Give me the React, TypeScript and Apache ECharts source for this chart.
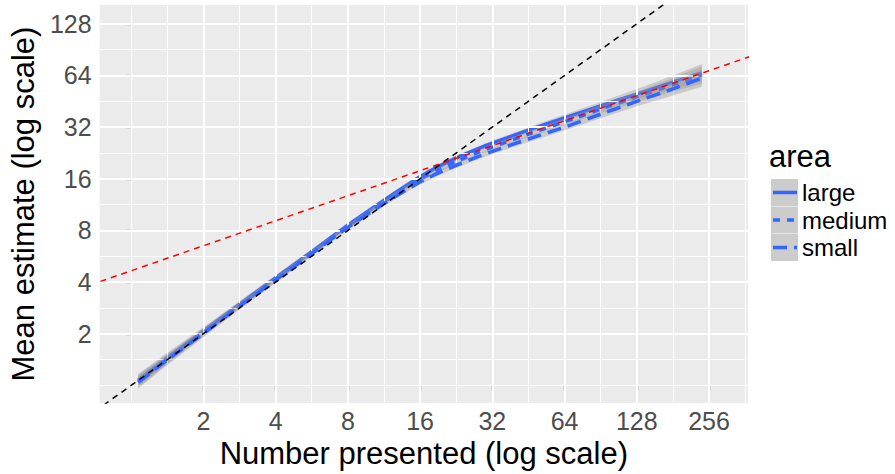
import React, { useEffect, useRef } from "react";
import * as echarts from "echarts";

// ---- data ----
const numberPresented = [1.07, 1.41, 2, 2.83, 4, 5.66, 8, 11.3, 13.5, 16, 19.0, 22.6, 26.9, 32, 45.3, 64, 90.5, 128, 181, 239];
const meanLarge = [1.072, 1.444, 2.07, 2.97, 4.23, 6.02, 8.58, 11.96, 14.12, 16.45, 18.77, 21.11, 23.42, 25.81, 30.7, 36.25, 42.52, 49.87, 58.49, 66.27];
const meanMedium = [1.057, 1.424, 2.04, 2.93, 4.17, 5.94, 8.46, 11.71, 13.74, 15.89, 18.0, 20.11, 22.31, 24.51, 29.14, 34.41, 40.64, 48.0, 56.49, 64.45];
const meanSmall = [1.043, 1.404, 2.01, 2.89, 4.11, 5.86, 8.34, 11.47, 13.36, 15.35, 17.27, 19.16, 21.11, 23.1, 27.28, 32.0, 38.05, 45.25, 53.45, 61.82];
// multiplicative half-width of the confidence band around each mean
const ciFactor = [1.087, 1.07, 1.055, 1.045, 1.04, 1.037, 1.035, 1.035, 1.035, 1.035, 1.035, 1.035, 1.035, 1.037, 1.04, 1.046, 1.055, 1.07, 1.094, 1.125];
const areaLevels = ["large", "medium", "small"];
const xTickValues = [2, 4, 8, 16, 32, 64, 128, 256];
const yTickValues = [2, 4, 8, 16, 32, 64, 128];
const xLimits = [0.739, 372];
const yLimits = [0.789, 164.7];
const identityX = [0.5, 512];
const referenceX = [0.5, 512];
const referenceY = [3.33, 95.4];

const FONT = "'Liberation Sans', Arial, Helvetica, sans-serif";
const BLUE = "#3366FF";
const L = Math.log2;

function minorFrom(ticks: number[]) {
  const ext = [ticks[0] / 2, ...ticks, ticks[ticks.length - 1] * 2];
  const out: number[] = [];
  for (let i = 0; i < ext.length - 1; i++) {
    out.push(ext[i]);
    out.push(Math.sqrt(ext[i] * ext[i + 1]));
  }
  out.push(ext[ext.length - 1]);
  return out;
}

export default function App() {
  const ref = useRef<HTMLDivElement>(null);
  useEffect(() => {
    if (!ref.current) return;
    const chart = echarts.init(ref.current, undefined, { renderer: "svg" });
    const xMin = L(xLimits[0]), xMax = L(xLimits[1]);
    const yMin = L(yLimits[0]), yMax = L(yLimits[1]);
    const inX = (v: number) => L(v) > xMin && L(v) < xMax;
    const inY = (v: number) => L(v) > yMin && L(v) < yMax;

    const gridLines: any[] = [];
    minorFrom(xTickValues).filter(inX).forEach((v) =>
      gridLines.push({ xAxis: L(v), lineStyle: { color: "#ffffff", width: 1, type: "solid" } })
    );
    minorFrom(yTickValues).filter(inY).forEach((v) =>
      gridLines.push({ yAxis: L(v), lineStyle: { color: "#ffffff", width: 1, type: "solid" } })
    );
    xTickValues.filter(inX).forEach((v) =>
      gridLines.push({ xAxis: L(v), lineStyle: { color: "#ffffff", width: 2, type: "solid" } })
    );
    yTickValues.filter(inY).forEach((v) =>
      gridLines.push({ yAxis: L(v), lineStyle: { color: "#ffffff", width: 2, type: "solid" } })
    );

    const means = [meanLarge, meanMedium, meanSmall];
    const dashes: any[] = ["solid", [7, 7], [14, 7]];
    const series: any[] = [
      {
        type: "line",
        z: 1,
        silent: true,
        data: [[xMin, yMin]],
        showSymbol: false,
        symbol: "none",
        lineStyle: { opacity: 0 },
        markLine: {
          silent: true,
          symbol: ["none", "none"],
          label: { show: false },
          emphasis: { disabled: true },
          animation: false,
          data: gridLines,
        },
      },
    ];
    means.forEach((m, k) => {
      const upper = numberPresented.map((x, i) => [L(x), L(m[i] * ciFactor[i])]);
      const lower = numberPresented.map((x, i) => [L(x), L(m[i] / ciFactor[i])]);
      series.push({
        type: "custom",
        name: areaLevels[k] + " band",
        z: 2 + k * 2,
        silent: true,
        clip: true,
        data: [[L(numberPresented[0]), L(m[0])]],
        renderItem: (_p: any, api: any) => {
          const pts = upper.concat(lower.slice().reverse()).map((p) => api.coord(p));
          return {
            type: "polygon",
            shape: { points: pts },
            style: { fill: "rgba(153,153,153,0.4)", stroke: "none" },
          };
        },
      });
      series.push({
        type: "line",
        name: areaLevels[k],
        z: 3 + k * 2,
        data: numberPresented.map((x, i) => [L(x), L(m[i])]),
        showSymbol: false,
        symbol: "none",
        smooth: 0.2,
        lineStyle: { color: BLUE, width: 3.5, type: dashes[k], cap: "butt" },
      });
    });
    series.push({
      type: "line",
      z: 10,
      data: identityX.map((x) => [L(x), L(x)]),
      showSymbol: false,
      symbol: "none",
      lineStyle: { color: "#000000", width: 1.5, type: [6, 5] },
    });
    series.push({
      type: "line",
      z: 10,
      data: referenceX.map((x, i) => [L(x), L(referenceY[i])]),
      showSymbol: false,
      symbol: "none",
      lineStyle: { color: "#FF0000", width: 1.5, type: [6, 5] },
    });

    const graphic: any[] = [
      {
        type: "text",
        left: 769,
        top: 141,
        style: { text: "area", fontSize: 31, fontFamily: FONT, fill: "#000" },
      },
    ];
    areaLevels.forEach((lab, k) => {
      const top = 179 + k * 27.5;
      const cy = top + 13.5;
      graphic.push({
        type: "rect",
        shape: { x: 771, y: top, width: 27, height: 27 },
        style: { fill: "#CCCCCC" },
      });
      graphic.push({
        type: "line",
        shape: { x1: 773, y1: cy, x2: 797, y2: cy },
        style: {
          stroke: BLUE,
          lineWidth: 3.5,
          lineDash: k === 0 ? null : k === 1 ? [7, 7] : [14, 7],
        },
      });
      graphic.push({
        type: "text",
        x: 802,
        y: cy,
        style: {
          text: lab,
          fontSize: 24,
          fontFamily: FONT,
          fill: "#000",
          verticalAlign: "middle",
        },
      });
    });

    chart.setOption({
      animation: false,
      backgroundColor: "#ffffff",
      textStyle: { fontFamily: FONT },
      grid: {
        left: 98,
        top: 5,
        right: 147,
        bottom: 67,
        show: true,
        backgroundColor: "#EBEBEB",
        borderWidth: 0,
      },
      xAxis: {
        type: "value",
        min: xMin,
        max: xMax,
        splitLine: { show: false },
        axisLine: { show: false },
        axisTick: {
          show: true,
          length: 5,
          lineStyle: { color: "#333333", width: 1.2 },
          customValues: xTickValues.map(L),
        },
        axisLabel: {
          customValues: xTickValues.map(L),
          formatter: (v: number) => String(Math.round(Math.pow(2, v))),
          fontSize: 25,
          color: "#4D4D4D",
          margin: 5,
          fontFamily: FONT,
        },
        name: "Number presented (log scale)",
        nameLocation: "middle",
        nameGap: 28,
        nameTextStyle: { fontSize: 31, color: "#000", fontFamily: FONT },
      },
      yAxis: {
        type: "value",
        min: yMin,
        max: yMax,
        splitLine: { show: false },
        axisLine: { show: false },
        axisTick: {
          show: true,
          length: 5,
          lineStyle: { color: "#333333", width: 1.2 },
          customValues: yTickValues.map(L),
        },
        axisLabel: {
          customValues: yTickValues.map(L),
          formatter: (v: number) => String(Math.round(Math.pow(2, v))),
          fontSize: 25,
          color: "#4D4D4D",
          margin: 8,
          fontFamily: FONT,
        },
        name: "Mean estimate (log scale)",
        nameLocation: "middle",
        nameGap: 56,
        nameTextStyle: { fontSize: 31, color: "#000", fontFamily: FONT },
      },
      graphic,
      series,
    });
    return () => chart.dispose();
  }, []);
  return (
    <div
      ref={ref}
      style={{ position: "absolute", left: 0, top: 0, width: 895, height: 474 }}
    />
  );
}
